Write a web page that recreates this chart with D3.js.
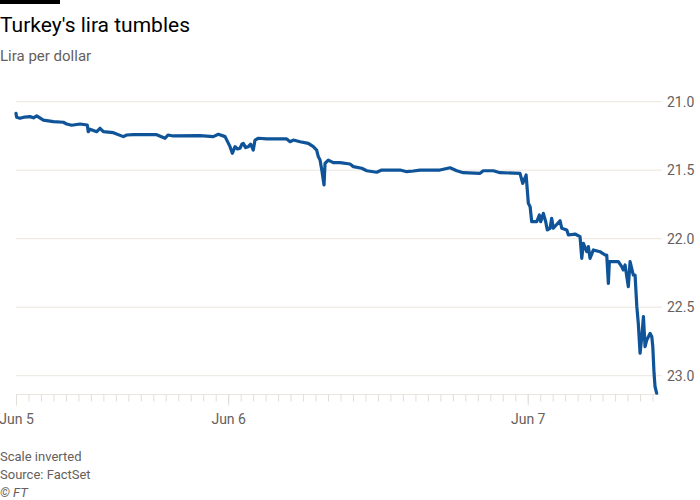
<!DOCTYPE html>
<html><head><meta charset="utf-8">
<script src="https://cdn.jsdelivr.net/npm/d3@7"></script>
<style>body{margin:0;background:#fff} svg{display:block}</style>
</head><body><svg id="chart" width="700" height="500"></svg>
<script>
// Data: hours since Jun 5 2023 07:00, lira per dollar
const startTime = "2023-06-05T07:00";
const endTime = "2023-06-07T10:20";
const hoursSinceStart = [0,0.05,0.32,0.7,1.12,1.4,1.66,2.19,2.99,3.79,4.06,4.46,5.13,5.71,5.79,5.93,6.47,6.73,7.0,7.8,8.6,8.87,9.4,11.27,11.94,12.18,12.6,14.74,15.81,16.21,16.75,17.15,17.33,17.55,17.75,17.95,18.1,18.21,18.4,18.61,18.8,19.01,19.15,19.42,20.09,21.69,21.96,22.22,22.76,23.42,23.82,24.09,24.22,24.36,24.5,24.68,24.76,25.02,25.42,25.96,26.76,27.03,27.7,28.1,28.9,29.3,30.77,31.31,31.83,32.37,33.97,34.78,35.31,35.84,37.18,37.44,38.25,38.78,40.38,40.6,40.87,41.05,41.19,41.32,41.72,41.93,42.04,42.25,42.44,42.57,42.79,42.92,43.05,43.59,43.73,44.13,44.26,44.79,45.19,45.33,45.46,45.73,45.86,45.99,46.26,46.79,47.2,47.33,47.46,47.54,47.86,48.26,48.53,48.66,48.8,49.06,49.2,49.46,49.6,49.74,49.86,50.0,50.14,50.27,50.4,50.54,50.8,50.94,51.02,51.12,51.2,51.33];
const liraPerDollar = [21.085,21.114,21.121,21.112,21.109,21.118,21.104,21.134,21.146,21.150,21.163,21.172,21.163,21.170,21.219,21.201,21.219,21.194,21.219,21.226,21.255,21.243,21.241,21.241,21.267,21.243,21.250,21.248,21.255,21.238,21.255,21.328,21.377,21.328,21.345,21.340,21.310,21.304,21.335,21.328,21.310,21.353,21.280,21.267,21.272,21.272,21.292,21.280,21.292,21.304,21.328,21.353,21.401,21.426,21.499,21.608,21.450,21.426,21.445,21.445,21.455,21.474,21.486,21.504,21.515,21.499,21.499,21.511,21.506,21.499,21.499,21.482,21.504,21.518,21.523,21.504,21.504,21.518,21.523,21.596,21.535,21.742,21.766,21.876,21.876,21.827,21.876,21.815,21.876,21.936,21.924,21.851,21.924,21.869,21.924,21.936,21.973,21.966,21.985,22.143,22.034,22.095,22.058,22.143,22.082,22.095,22.119,22.119,22.326,22.168,22.168,22.168,22.204,22.228,22.192,22.350,22.168,22.265,22.265,22.496,22.618,22.836,22.715,22.569,22.788,22.739,22.691,22.715,22.788,22.982,23.080,23.128];
const yTicks = [21.0, 21.5, 22.0, 22.5, 23.0];
const xTickDates = ["2023-06-05T07:00", "2023-06-06T00:00", "2023-06-07T00:00"];
const xTickLabels = ["Jun 5", "Jun 6", "Jun 7"];

const parse = d3.timeParse("%Y-%m-%dT%H:%M");
const t0 = parse(startTime), t1 = parse(endTime);
const data = hoursSinceStart.map((h, i) => ({t: new Date(+t0 + h * 3600e3), v: liraPerDollar[i]}));

const svg = d3.select("#chart");
const font = "Roboto, 'Liberation Sans', sans-serif";
const gridCol = "#ebe5df", textCol = "#66605c";

const x = d3.scaleTime().domain([t0, t1]).range([16, 656.7]);
const y = d3.scaleLinear().domain([21, 23]).range([101.7, 375.7]);
const axisY = 394.5;

// top bar
svg.append("rect").attr("x", 0).attr("y", 0).attr("width", 60).attr("height", 4).attr("fill", "#000");
svg.append("text").attr("x", 0).attr("y", 32).attr("font-family", font).attr("font-size", 21)
  .attr("fill", "#000").text("Turkey's lira tumbles");
svg.append("text").attr("x", 0).attr("y", 61).attr("font-family", font).attr("font-size", 15)
  .attr("fill", textCol).text("Lira per dollar");

// gridlines + y labels
const gy = svg.append("g");
yTicks.forEach(v => {
  gy.append("line").attr("x1", 16).attr("x2", 662).attr("y1", y(v)).attr("y2", y(v))
    .attr("stroke", gridCol).attr("stroke-width", 1);
  gy.append("text").attr("x", 667).attr("y", y(v)).attr("dy", "0.35em")
    .attr("font-family", font).attr("font-size", 14).attr("fill", textCol).text(d3.format(".1f")(v));
});

// x axis minor ticks (hourly)
const hourTicks = d3.timeHour.range(t0, new Date(+t1 + 1));
const ax = svg.append("g").attr("transform", `translate(0,${axisY})`)
  .call(d3.axisBottom(x).tickValues(hourTicks).tickSize(7).tickSizeOuter(0).tickFormat(""));
ax.select(".domain").remove();
ax.selectAll(".tick line").attr("stroke", "#e3ddd7");
ax.append("line").attr("x1", 16).attr("x2", 660).attr("y1", 0).attr("y2", 0).attr("stroke", gridCol);

// major ticks with labels
const majors = xTickDates.map(parse);
const axM = svg.append("g").attr("transform", `translate(0,${axisY})`)
  .call(d3.axisBottom(x).tickValues(majors).tickSize(11).tickSizeOuter(0)
    .tickFormat((d, i) => xTickLabels[i]));
axM.select(".domain").remove();
axM.selectAll(".tick line").attr("stroke", "#e3ddd7");
axM.selectAll(".tick text").attr("font-family", font).attr("font-size", 14)
  .attr("fill", textCol).attr("y", 20).attr("dy", "0.71em");

// line
svg.append("path").datum(data)
  .attr("d", d3.line().x(d => x(d.t)).y(d => y(d.v)))
  .attr("fill", "none").attr("stroke", "#0f5499").attr("stroke-width", 3.2)
  .attr("stroke-linejoin", "round").attr("stroke-linecap", "round");

// footer
const foot = ["Scale inverted", "Source: FactSet"];
foot.forEach((s, i) => svg.append("text").attr("x", 0).attr("y", 461 + i * 18)
  .attr("font-family", font).attr("font-size", 13).attr("fill", textCol).text(s));
svg.append("text").attr("x", 0).attr("y", 497).attr("font-family", font).attr("font-size", 13)
  .attr("font-style", "italic").attr("fill", textCol).text("© FT");
</script></body></html>
